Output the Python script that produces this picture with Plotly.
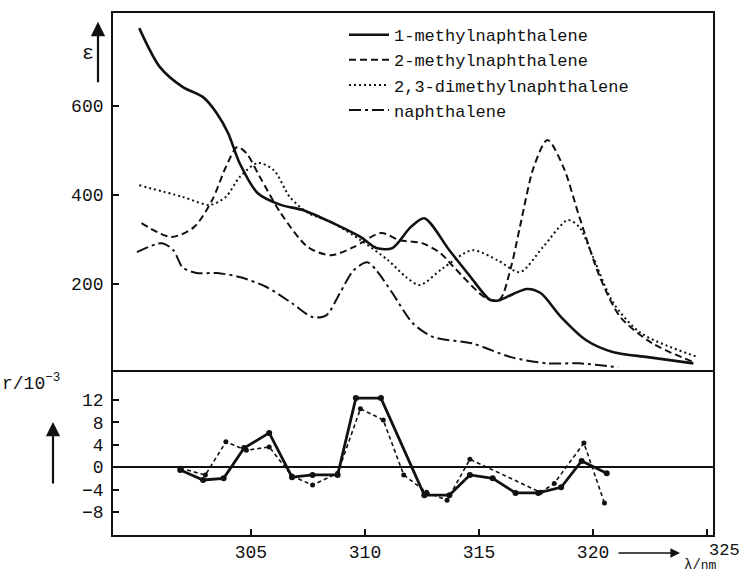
import plotly.graph_objects as go

# ---- upper panel: absorption spectra (epsilon vs wavelength, nm) ----
lam_1m = [300.1, 301.0, 302.0, 302.9, 303.5, 304.0, 304.5, 305.3, 306.3, 307.3, 308.6, 309.8, 310.5, 311.2,
          312.0, 312.6, 313.7, 314.6, 315.5, 315.9, 316.5, 317.1, 317.7, 318.6, 319.7, 320.9, 322.4, 324.4]
eps_1m = [775, 688, 643, 620, 584, 539, 472, 404, 378, 366, 337, 306, 281, 281,
          328, 348, 276, 218, 164, 164, 178, 189, 180, 126, 74, 47, 36, 22]

lam_2m = [300.2, 301.5, 302.5, 303.3, 303.9, 304.4, 304.8, 305.4, 306.3, 307.5, 308.5, 309.5, 310.7, 311.5,
          312.5, 313.3, 313.9, 315.3, 315.9, 316.4, 316.8, 317.4, 318.0, 318.7, 319.4, 320.3, 321.2, 322.6, 324.4]
eps_2m = [337, 306, 328, 389, 463, 508, 494, 440, 360, 283, 265, 283, 315, 299,
          292, 270, 238, 169, 165, 238, 330, 463, 524, 463, 351, 216, 126, 67, 25]

lam_23 = [300.1, 302.0, 303.2, 303.9, 304.5, 305.3, 306.0, 306.7, 307.5, 308.6, 309.8, 311.0, 311.8, 312.4,
          313.4, 314.7, 315.8, 316.8, 317.8, 318.9, 319.4, 320.0, 320.9, 322.1, 324.6]
eps_23 = [422, 396, 378, 396, 440, 472, 456, 396, 360, 337, 299, 254, 216, 198,
          235, 276, 254, 227, 283, 344, 328, 261, 157, 90, 36]

lam_n = [300.0, 301.1, 301.6, 302.0, 302.6, 303.5, 304.5, 305.7, 306.8, 307.7, 308.3, 308.9, 309.5, 310.1,
         310.5, 311.2, 312.1, 313.0, 314.7, 316.4, 318.0, 319.4, 321.1]
eps_n = [272, 292, 276, 238, 225, 225, 216, 193, 157, 126, 130, 180, 231, 249,
         231, 180, 112, 81, 67, 36, 22, 22, 13]

# ---- lower panel: r / 10^-3 ----
lam_rA = [301.9, 302.9, 303.8, 304.7, 305.8, 306.8, 307.7, 308.8, 309.6, 310.7, 312.6, 313.7, 314.6,
          315.6, 316.6, 317.6, 318.6, 319.5, 320.6]
r_A = [-0.5, -2.3, -2.0, 3.4, 6.1, -1.8, -1.4, -1.4, 12.3, 12.3, -5.0, -5.0, -1.4,
       -2.0, -4.6, -4.6, -3.6, 1.1, -1.1]

lam_rB = [301.9, 303.0, 303.9, 304.8, 305.8, 306.8, 307.7, 308.8, 309.8, 310.8, 311.7, 312.7, 313.6,
          314.6, 317.7, 318.3, 319.6, 320.5]
r_B = [-0.2, -1.4, 4.5, 3.0, 3.6, -1.6, -3.2, -1.1, 10.4, 8.4, -1.4, -4.5, -5.9,
       1.4, -4.5, -2.9, 4.3, -6.4]

names = ["1-methylnaphthalene", "2-methylnaphthalene", "2,3-dimethylnaphthalene", "naphthalene"]
x_ticks = [305, 310, 315, 320, 325]
x_ticklabels = ["305", "310", "315", "320", ""]   # "325" is set beside its tick, as in the original
last_x_label = "325"
eps_ticks = [200, 400, 600]
r_ticks = [12, 8, 4, 0, -4, -8]
r_ticklabels = ["12", "8", "4", "0", "\u22124", "\u22128"]

FONT = "Liberation Mono"
BLK = "#111111"

fig = go.Figure()
fig.add_trace(go.Scatter(x=lam_1m, y=eps_1m, name=names[0], mode="lines", xaxis="x2", yaxis="y2",
                         line=dict(color=BLK, width=2.6, shape="spline", smoothing=0.8)))
fig.add_trace(go.Scatter(x=lam_2m, y=eps_2m, name=names[1], mode="lines", xaxis="x2", yaxis="y2",
                         line=dict(color=BLK, width=2, dash="7px,4px", shape="spline", smoothing=0.8)))
fig.add_trace(go.Scatter(x=lam_23, y=eps_23, name=names[2], mode="lines", xaxis="x2", yaxis="y2",
                         line=dict(color=BLK, width=2, dash="2px,3px", shape="spline", smoothing=0.8)))
fig.add_trace(go.Scatter(x=lam_n, y=eps_n, name=names[3], mode="lines", xaxis="x2", yaxis="y2",
                         line=dict(color=BLK, width=2, dash="12px,4px,3px,4px", shape="spline", smoothing=0.8)))

fig.add_trace(go.Scatter(x=lam_rA, y=r_A, mode="lines+markers", showlegend=False,
                         line=dict(color=BLK, width=2.8), marker=dict(size=6, color=BLK)))
fig.add_trace(go.Scatter(x=lam_rB, y=r_B, mode="lines+markers", showlegend=False,
                         line=dict(color=BLK, width=1.6, dash="4px,3px"), marker=dict(size=5, color=BLK)))

split = 0.316
xr = [298.95, 325.26]
fig.update_layout(
    width=745, height=575,
    margin=dict(l=113, r=32, t=13, b=40),
    paper_bgcolor="white", plot_bgcolor="white",
    font=dict(family=FONT, color=BLK, size=17),
    showlegend=True,
    legend=dict(x=0.385, y=0.992, xanchor="left", yanchor="top", bgcolor="rgba(0,0,0,0)",
                font=dict(family=FONT, size=17, color=BLK), tracegroupgap=0, itemwidth=40),
    xaxis=dict(domain=[0, 1], range=xr, anchor="y", tickmode="array", tickvals=x_ticks,
               ticktext=x_ticklabels,
               ticks="inside", ticklen=6, tickwidth=1.5, tickcolor=BLK,
               showline=True, linecolor=BLK, linewidth=1.6, mirror=False, showgrid=False, zeroline=False,
               tickfont=dict(family=FONT, size=18, color=BLK)),
    yaxis=dict(domain=[0, split], range=[-12.1, 17.3], anchor="x", tickmode="array", tickvals=r_ticks,
               ticktext=r_ticklabels, ticks="inside", ticklen=6, tickwidth=1.5, tickcolor=BLK,
               showline=True, linecolor=BLK, linewidth=1.8, mirror=True, showgrid=False,
               zeroline=True, zerolinecolor=BLK, zerolinewidth=1.6, ticklabelstandoff=4,
               tickfont=dict(family=FONT, size=18, color=BLK)),
    xaxis2=dict(domain=[0, 1], range=xr, anchor="y2", matches="x", showticklabels=False, ticks="",
                showline=True, linecolor=BLK, linewidth=1.6, mirror=True, showgrid=False, zeroline=False),
    yaxis2=dict(domain=[split, 1], range=[7, 809], anchor="x2", tickmode="array", tickvals=eps_ticks,
                ticks="inside", ticklen=6, tickwidth=1.5, tickcolor=BLK, ticklabelstandoff=4,
                showline=True, linecolor=BLK, linewidth=1.8, mirror=True, showgrid=False, zeroline=False,
                tickfont=dict(family=FONT, size=18, color=BLK)),
)

# axis labels with arrows
ann = []
ann.append(dict(xref="paper", yref="paper", x=-0.055, y=0.948, text="\u03b5", showarrow=False,
                font=dict(family=FONT, size=20, color=BLK)))
ann.append(dict(xref="paper", yref="paper", x=-0.025, y=0.983, text="", showarrow=True,
                axref="pixel", ayref="pixel", ax=0, ay=62, arrowhead=2, arrowsize=1.3, arrowwidth=2.2,
                arrowcolor=BLK))
ann.append(dict(xref="paper", yref="paper", x=-0.188, y=0.293, xanchor="left", yanchor="middle",
                text="r/10<sup>\u22123</sup>", showarrow=False, font=dict(family=FONT, size=18, color=BLK)))
ann.append(dict(xref="paper", yref="paper", x=-0.1, y=0.2165, text="", showarrow=True,
                axref="pixel", ayref="pixel", ax=0, ay=63, arrowhead=2, arrowsize=1.3, arrowwidth=2.2,
                arrowcolor=BLK))
ann.append(dict(xref="paper", yref="paper", x=0.945, y=-0.0345, text="", showarrow=True,
                axref="pixel", ayref="pixel", ax=-63, ay=0, arrowhead=2, arrowsize=1.2, arrowwidth=1.6,
                arrowcolor=BLK))
ann.append(dict(xref="x", yref="paper", x=x_ticks[-1], xshift=17, y=-0.008, yanchor="top",
                text=last_x_label, showarrow=False, font=dict(family=FONT, size=17, color=BLK)))
ann.append(dict(xref="paper", yref="paper", x=0.948, y=-0.0766, xanchor="left", yanchor="bottom",
                text="\u03bb/<span style='font-size:13px'>nm</span>", showarrow=False,
                font=dict(family=FONT, size=14, color=BLK)))
fig.update_layout(annotations=ann)

fig.write_html("out.html")
